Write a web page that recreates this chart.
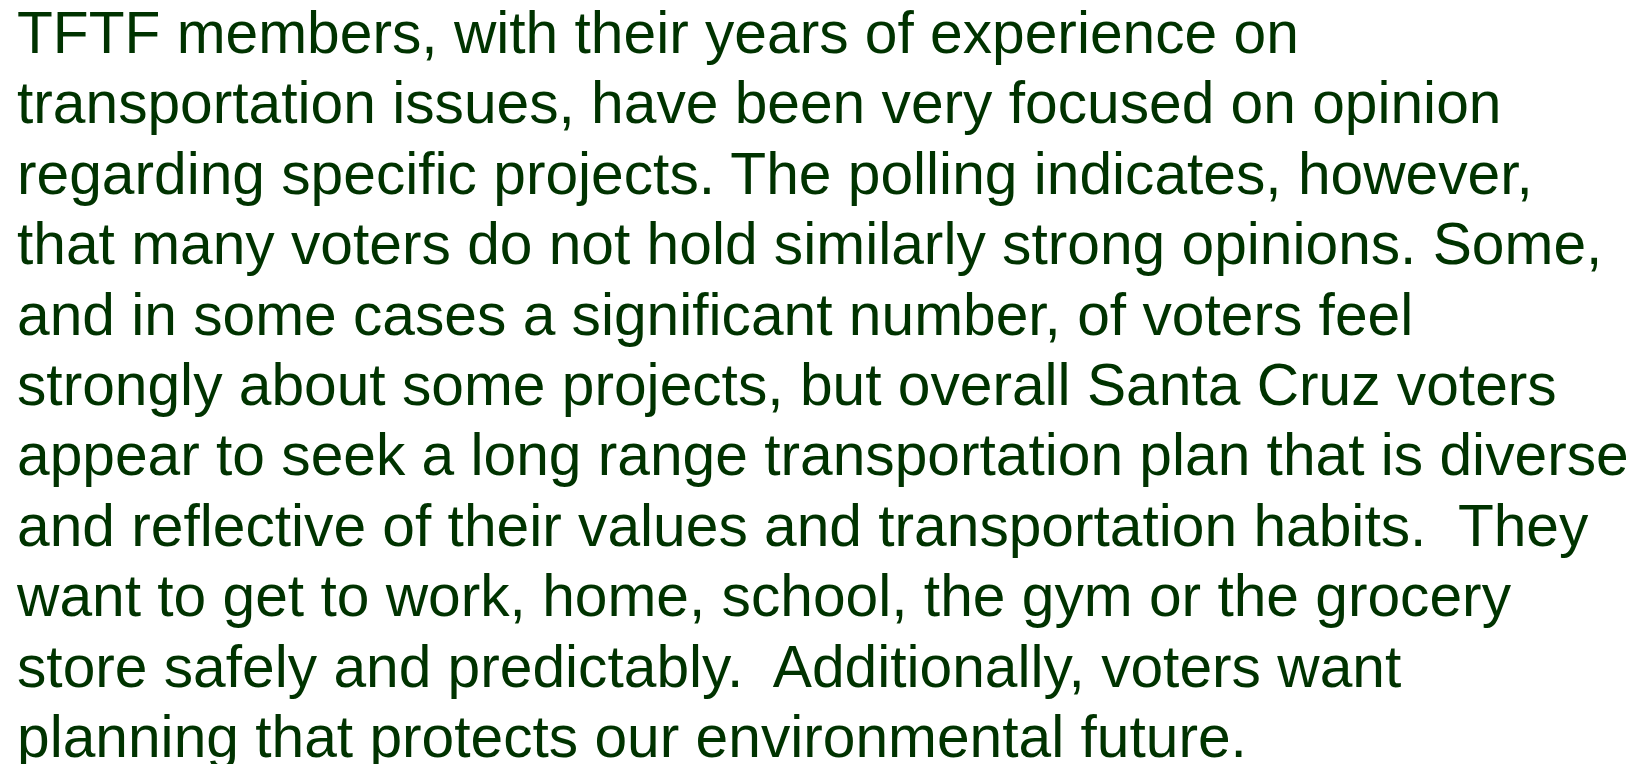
<!DOCTYPE html>
<html>
<head>
<meta charset="utf-8">
<script src="https://cdn.jsdelivr.net/npm/chart.js@4/dist/chart.umd.min.js"></script>
<style>
  html, body { margin: 0; padding: 0; background: #ffffff; width: 1646px; height: 764px; overflow: hidden; }
  #text {
    position: absolute; left: 17px; top: -2px;
    font-family: "Liberation Sans", Arial, sans-serif;
    font-size: 58.7px; line-height: 70.4px; color: #003300;
    white-space: pre; margin: 0;
  }
</style>
</head>
<body>
<div id="text"></div>
<script>
const lines = [
  "TFTF members, with their years of experience on",
  "transportation issues, have been very focused on opinion",
  "regarding specific projects. The polling indicates, however,",
  "that many voters do not hold similarly strong opinions. Some,",
  "and in some cases a significant number, of voters feel",
  "strongly about some projects, but overall Santa Cruz voters",
  "appear to seek a long range transportation plan that is diverse",
  "and reflective of their values and transportation habits.  They",
  "want to get to work, home, school, the gym or the grocery",
  "store safely and predictably.  Additionally, voters want",
  "planning that protects our environmental future."
];
document.getElementById('text').textContent = lines.join("\n");
</script>
</body>
</html>
